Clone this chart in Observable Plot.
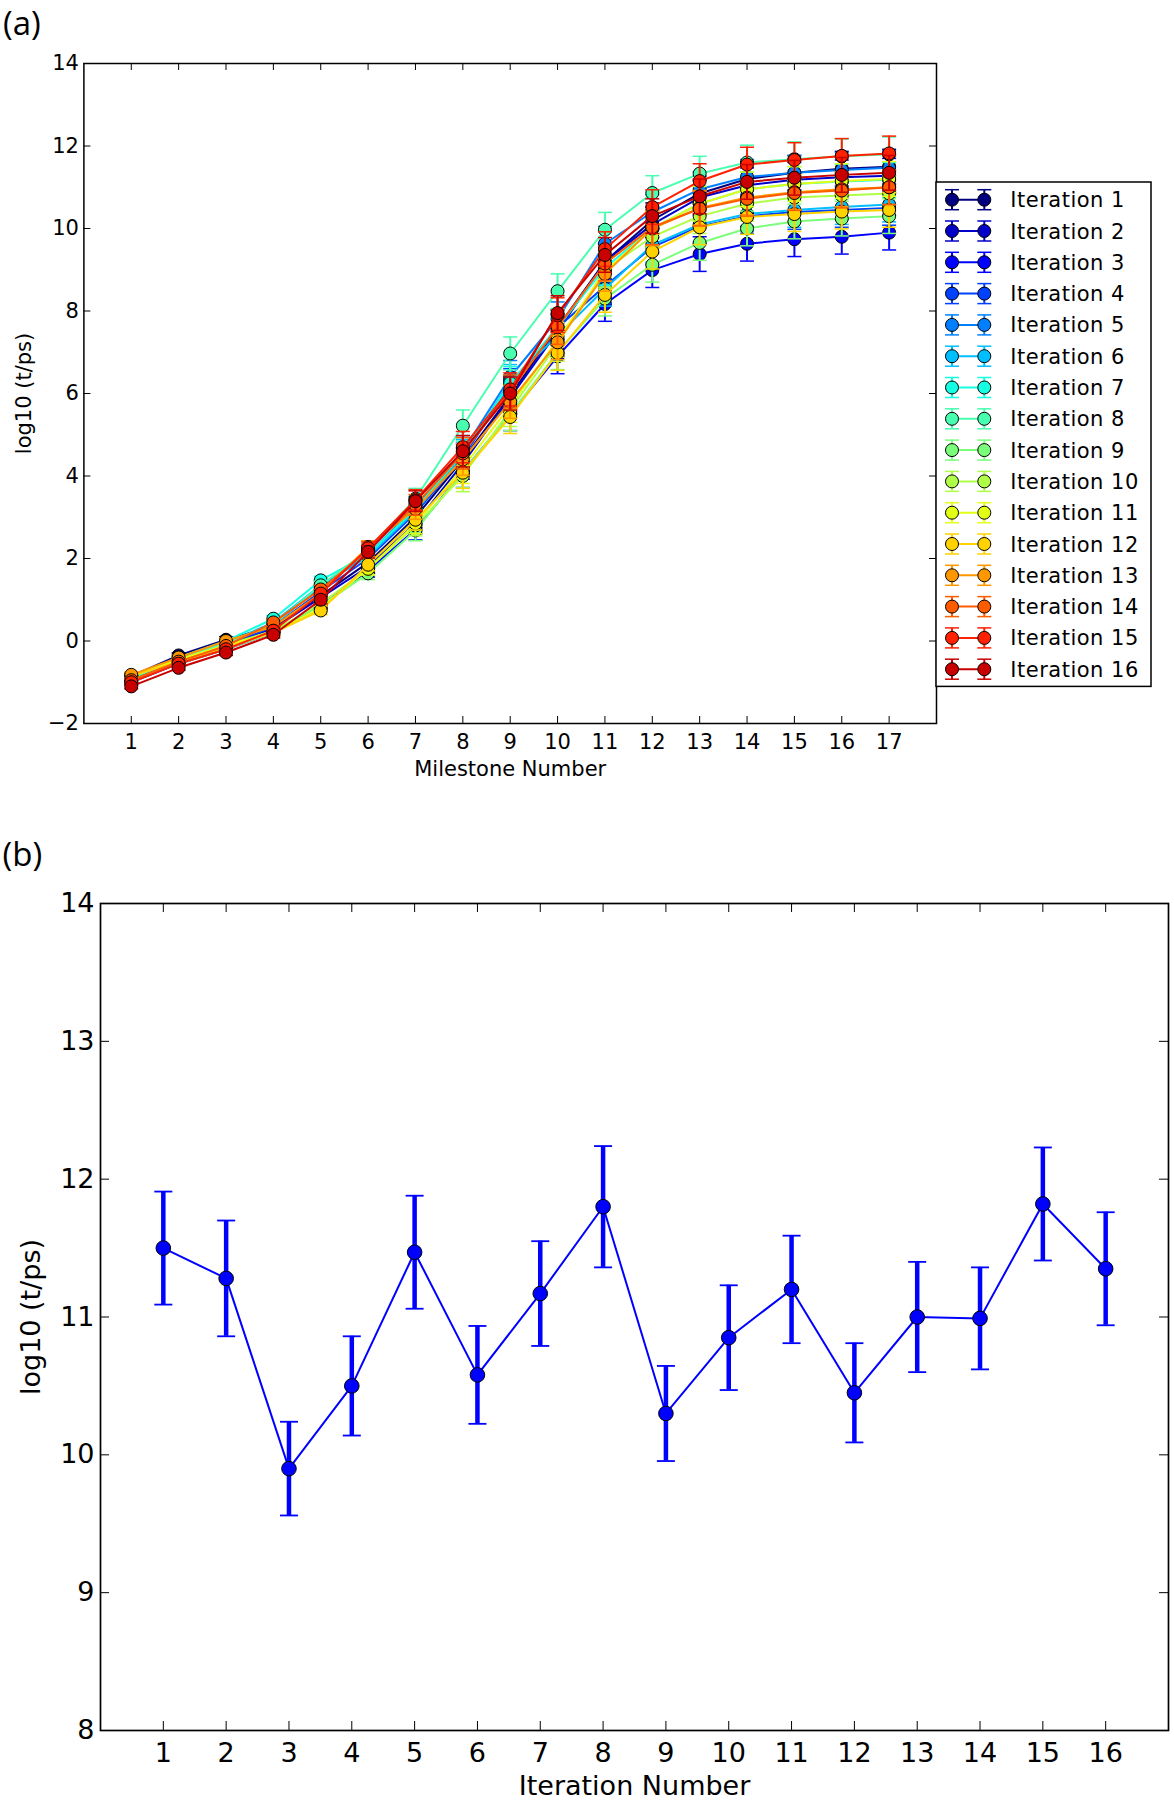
<!DOCTYPE html>
<html><head><meta charset="utf-8">
<script src="https://cdn.jsdelivr.net/npm/d3@7"></script>
<script src="https://cdn.jsdelivr.net/npm/@observablehq/plot@0.6"></script>
<style>
body{margin:0;background:#fff;}
#wrap{position:relative;width:1174px;height:1800px;overflow:hidden;background:#fff;}
#wrap svg{position:absolute;left:0;}
</style></head><body><div id="wrap"></div>
<script>
// ---------- data ----------
const milestones = [1,2,3,4,5,6,7,8,9,10,11,12,13,14,15,16,17];
const iterationLabels = ["Iteration 1","Iteration 2","Iteration 3","Iteration 4","Iteration 5","Iteration 6","Iteration 7","Iteration 8","Iteration 9","Iteration 10","Iteration 11","Iteration 12","Iteration 13","Iteration 14","Iteration 15","Iteration 16"];
const iteration1  = [-0.85,-0.35,0.03,0.35,1.10,1.90,3.00,4.40,5.95,7.60,9.20,10.20,10.85,11.20,11.35,11.45,11.50];
const iteration2  = [-0.95,-0.45,-0.10,0.30,1.05,1.80,2.85,4.30,5.90,7.50,9.20,10.10,10.75,11.05,11.18,11.24,11.28];
const iteration3  = [-1.00,-0.55,-0.20,0.20,0.90,1.70,2.70,4.10,5.50,6.90,8.17,8.99,9.38,9.63,9.74,9.80,9.90];
const iteration4  = [-0.95,-0.50,-0.10,0.35,1.20,2.00,3.10,4.45,6.20,7.60,8.60,9.55,10.05,10.30,10.40,10.45,10.50];
const iteration5  = [-0.90,-0.45,-0.05,0.40,1.30,2.10,3.25,4.60,6.40,7.80,9.63,10.40,10.95,11.25,11.35,11.42,11.47];
const iteration6  = [-0.90,-0.45,-0.05,0.45,1.35,2.05,3.15,4.50,6.30,7.40,8.54,9.60,10.10,10.35,10.45,10.52,10.58];
const iteration7  = [-0.90,-0.40,0.00,0.54,1.47,2.10,3.20,4.55,6.25,7.60,9.05,10.00,10.60,10.95,11.08,11.14,11.18];
const iteration8  = [-0.90,-0.45,-0.05,0.40,1.35,2.20,3.45,5.22,6.97,8.48,9.97,10.86,11.33,11.60,11.68,11.75,11.80];
const iteration9  = [-0.95,-0.55,-0.20,0.20,0.85,1.64,2.68,4.10,5.50,7.00,8.30,9.12,9.65,10.00,10.17,10.24,10.30];
const iteration10 = [-0.85,-0.45,-0.10,0.25,0.90,1.75,2.80,4.00,5.60,7.20,9.00,9.80,10.30,10.60,10.75,10.80,10.85];
const iteration11 = [-0.85,-0.45,-0.10,0.20,0.80,1.75,2.85,4.20,5.70,7.30,8.95,10.00,10.60,10.95,11.08,11.15,11.20];
const iteration12 = [-0.85,-0.50,-0.15,0.20,0.74,1.85,2.94,4.08,5.43,6.98,8.39,9.44,10.03,10.28,10.35,10.41,10.45];
const iteration13 = [-0.82,-0.40,0.00,0.35,1.15,2.28,3.20,4.40,5.80,7.24,8.90,10.00,10.50,10.75,10.88,10.95,11.00];
const iteration14 = [-0.95,-0.50,-0.12,0.45,1.25,2.20,3.30,4.55,6.05,7.61,9.15,10.03,10.48,10.72,10.86,10.92,11.00];
const iteration15 = [-1.00,-0.55,-0.20,0.25,1.15,2.25,3.42,4.70,6.10,7.90,9.50,10.52,11.15,11.55,11.66,11.76,11.82];
const iteration16 = [-1.10,-0.65,-0.28,0.15,1.00,2.16,3.39,4.60,6.00,7.95,9.36,10.30,10.78,11.13,11.23,11.30,11.35];
const milestoneErr = [0.06,0.06,0.07,0.08,0.10,0.15,0.25,0.38,0.40,0.42,0.42,0.42,0.42,0.42,0.42,0.42,0.42];

const iterationNumbers = [1,2,3,4,5,6,7,8,9,10,11,12,13,14,15,16];
const finalMean = [11.50,11.28,9.90,10.50,11.47,10.58,11.17,11.80,10.30,10.85,11.20,10.45,11.00,10.99,11.82,11.35];
const finalErr  = [0.41,0.42,0.34,0.36,0.41,0.355,0.38,0.44,0.345,0.38,0.39,0.36,0.40,0.37,0.41,0.41];

const yTicksA = [-2,0,2,4,6,8,10,12,14];
const yTicksB = [8,9,10,11,12,13,14];

// jet colormap samples (style)
const jetColors = ["#000080","#0000c8","#0000ff","#0040ff","#0080ff","#00bfff","#15ffe2","#48ffaf","#7bff7b","#afff48","#e2ff15","#ffd200","#ff9700","#ff5c00","#ff2100","#c80000"];

const seriesA = [iteration1,iteration2,iteration3,iteration4,iteration5,iteration6,iteration7,iteration8,iteration9,iteration10,iteration11,iteration12,iteration13,iteration14,iteration15,iteration16];

// ---------- helpers ----------
const W = 1174;
const fmtMinus = d => d < 0 ? "\u2212" + Math.abs(d) : String(d);
function capSymbol(half){ return {draw(ctx){ ctx.moveTo(-half,0); ctx.lineTo(half,0); }}; }
const wrap = document.getElementById("wrap");

// ---------- panel (a) ----------
const hA = 790, mTopA = 63, mBotA = hA - 723, mLeftA = 83.4, mRightA = W - 936;
const innerHA = hA - mTopA - mBotA, innerWA = W - mLeftA - mRightA;
const marksA = [];
const tickLenA = 7;
marksA.push(Plot.ruleX(milestones, {x: d => d, insetTop: innerHA - tickLenA, stroke: "black", strokeWidth: 1}));
marksA.push(Plot.ruleX(milestones, {x: d => d, insetBottom: innerHA - tickLenA, stroke: "black", strokeWidth: 1}));
marksA.push(Plot.ruleY(yTicksA, {y: d => d, insetRight: innerWA - tickLenA, stroke: "black", strokeWidth: 1}));
marksA.push(Plot.ruleY(yTicksA, {y: d => d, insetLeft: innerWA - tickLenA, stroke: "black", strokeWidth: 1}));
seriesA.forEach((vals, i) => {
  const rows = milestones.map((m, j) => ({m, v: vals[j], e: milestoneErr[j]}));
  const c = jetColors[i];
  marksA.push(Plot.ruleX(rows, {x: "m", y1: d => d.v - d.e, y2: d => d.v + d.e, stroke: c, strokeWidth: 2}));
  marksA.push(Plot.dot(rows, {x: "m", y: d => d.v + d.e, symbol: capSymbol(7), fill: "none", stroke: c, strokeWidth: 1.5}));
  marksA.push(Plot.dot(rows, {x: "m", y: d => d.v - d.e, symbol: capSymbol(7), fill: "none", stroke: c, strokeWidth: 1.5}));
  marksA.push(Plot.line(rows, {x: "m", y: "v", stroke: c, strokeWidth: 2}));
  marksA.push(Plot.dot(rows, {x: "m", y: "v", r: 6.5, fill: c, stroke: "black", strokeWidth: 1}));
});
marksA.push(Plot.frame({stroke: "black", strokeWidth: 1.5}));
marksA.push(Plot.axisX(milestones, {tickSize: 0, tickPadding: 11, fontSize: 21, label: null, tickFormat: fmtMinus}));
marksA.push(Plot.axisY(yTicksA, {tickSize: 0, tickPadding: 5, fontSize: 21, label: null, tickFormat: fmtMinus}));
marksA.push(Plot.text(["Milestone Number"], {frameAnchor: "bottom", lineAnchor: "middle", textAnchor: "middle", dy: 46, fontSize: 21}));
marksA.push(Plot.text(["log10 (t/ps)"], {frameAnchor: "left", lineAnchor: "middle", textAnchor: "middle", rotate: -90, dx: -60, fontSize: 21}));
marksA.push(Plot.text(["(a)"], {frameAnchor: "top-left", textAnchor: "start", lineAnchor: "middle", dx: -81, dy: -39, fontSize: 33, fontFamily: "Open Sans"}));

const plotA = Plot.plot({
  width: W, height: hA,
  marginLeft: mLeftA, marginRight: mRightA, marginTop: mTopA, marginBottom: mBotA,
  x: {domain: [0, 18], axis: null},
  y: {domain: [-2, 14], axis: null},
  style: {fontFamily: "DejaVu Sans", color: "black", background: "white", overflow: "visible"},
  marks: marksA
});
plotA.style.top = "0px";
wrap.appendChild(plotA);

// legend for panel (a)
const legX = 935.7, legY = 182.3, legW = 215, legH = 504.4, rowH = 31.3, row0 = 17.7;
const leg = d3.select(wrap).append("svg")
  .attr("width", legW + 2).attr("height", legH + 2)
  .style("left", (legX - 1) + "px").style("top", (legY - 1) + "px");
leg.append("rect").attr("x", 1).attr("y", 1).attr("width", legW).attr("height", legH)
  .attr("fill", "white").attr("stroke", "black").attr("stroke-width", 1.5);
iterationLabels.forEach((lab, i) => {
  const g = leg.append("g").attr("transform", `translate(1,${1 + row0 + i * rowH})`);
  const c = jetColors[i];
  [16, 48.3].forEach(x => {
    g.append("line").attr("x1", x).attr("x2", x).attr("y1", -10).attr("y2", 10).attr("stroke", c).attr("stroke-width", 2);
    g.append("line").attr("x1", x - 7).attr("x2", x + 7).attr("y1", -10).attr("y2", -10).attr("stroke", c).attr("stroke-width", 1.5);
    g.append("line").attr("x1", x - 7).attr("x2", x + 7).attr("y1", 10).attr("y2", 10).attr("stroke", c).attr("stroke-width", 1.5);
  });
  g.append("line").attr("x1", 16).attr("x2", 48.3).attr("y1", 0).attr("y2", 0).attr("stroke", c).attr("stroke-width", 2);
  [16, 48.3].forEach(x => {
    g.append("circle").attr("cx", x).attr("cy", 0).attr("r", 6.5).attr("fill", c).attr("stroke", "black").attr("stroke-width", 1);
  });
  g.append("text").attr("x", 74.3).attr("y", 0).attr("dy", "0.36em")
    .attr("font-family", "DejaVu Sans").attr("font-size", 21).attr("letter-spacing", 0.5).text(lab);
});

// ---------- panel (b) ----------
const topB = 790, hB = 1010, mTopB = 903 - topB, mBotB = topB + hB - 1730, mLeftB = 100, mRightB = W - 1168;
const innerHB = hB - mTopB - mBotB, innerWB = W - mLeftB - mRightB;
const rowsB = iterationNumbers.map((n, i) => ({n, v: finalMean[i], e: finalErr[i]}));
const blue = "#0000ff";
const tickLenB = 9;
const plotB = Plot.plot({
  width: W, height: hB,
  marginLeft: mLeftB, marginRight: mRightB, marginTop: mTopB, marginBottom: mBotB,
  x: {domain: [0, 17], axis: null},
  y: {domain: [8, 14], axis: null},
  style: {fontFamily: "DejaVu Sans", color: "black", background: "white", overflow: "visible"},
  marks: [
    Plot.ruleX(iterationNumbers, {x: d => d, insetTop: innerHB - tickLenB, stroke: "black", strokeWidth: 1}),
    Plot.ruleX(iterationNumbers, {x: d => d, insetBottom: innerHB - tickLenB, stroke: "black", strokeWidth: 1}),
    Plot.ruleY(yTicksB, {y: d => d, insetRight: innerWB - tickLenB, stroke: "black", strokeWidth: 1}),
    Plot.ruleY(yTicksB, {y: d => d, insetLeft: innerWB - tickLenB, stroke: "black", strokeWidth: 1}),
    Plot.ruleX(rowsB, {x: "n", y1: d => d.v - d.e, y2: d => d.v + d.e, stroke: blue, strokeWidth: 4.5}),
    Plot.dot(rowsB, {x: "n", y: d => d.v + d.e, symbol: capSymbol(9), fill: "none", stroke: blue, strokeWidth: 1.8}),
    Plot.dot(rowsB, {x: "n", y: d => d.v - d.e, symbol: capSymbol(9), fill: "none", stroke: blue, strokeWidth: 1.8}),
    Plot.line(rowsB, {x: "n", y: "v", stroke: blue, strokeWidth: 2}),
    Plot.dot(rowsB, {x: "n", y: "v", r: 7.3, fill: blue, stroke: "black", strokeWidth: 1}),
    Plot.frame({stroke: "black", strokeWidth: 1.7}),
    Plot.axisX(iterationNumbers, {tickSize: 0, tickPadding: 12, fontSize: 27, label: null, tickFormat: d => String(d)}),
    Plot.axisY(yTicksB, {tickSize: 0, tickPadding: 6, fontSize: 27, label: null, tickFormat: d => String(d)}),
    Plot.text(["Iteration Number"], {frameAnchor: "bottom", lineAnchor: "middle", textAnchor: "middle", dy: 56, fontSize: 27}),
    Plot.text(["log10 (t/ps)"], {frameAnchor: "left", lineAnchor: "middle", textAnchor: "middle", rotate: -90, dx: -69, fontSize: 27}),
    Plot.text(["(b)"], {frameAnchor: "top-left", textAnchor: "start", lineAnchor: "middle", dx: -98, dy: -48, fontSize: 33, fontFamily: "Open Sans"})
  ]
});
plotB.style.top = topB + "px";
wrap.appendChild(plotB);
</script>
</body></html>
